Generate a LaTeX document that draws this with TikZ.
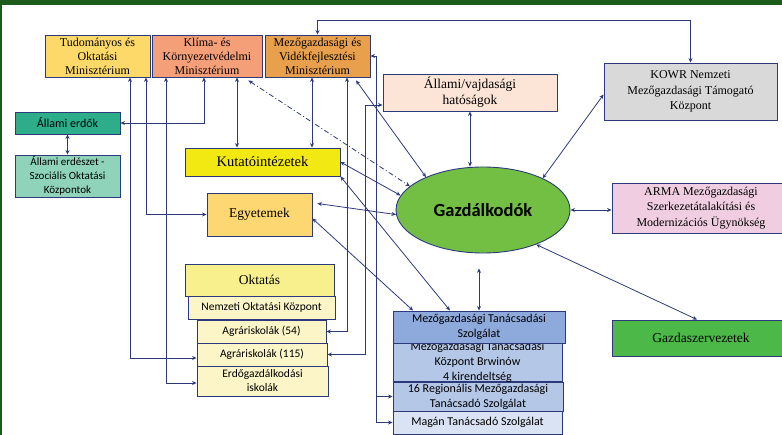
\documentclass[tikz,border=0pt]{standalone}
\usepackage{fontspec}
\setmainfont{Liberation Serif}
\newfontfamily\calibri{Carlito}
\usetikzlibrary{arrows.meta,shapes.geometric}

\definecolor{framegreen}{HTML}{1C5B1C}
\definecolor{edge}{HTML}{2C3A7C}
\definecolor{tudfill}{HTML}{FDD96A}
\definecolor{klimafill}{HTML}{F59F78}
\definecolor{mvmfill}{HTML}{E9A04C}
\definecolor{erdokfill}{HTML}{2EAD8A}
\definecolor{erdeszfill}{HTML}{8ED3BA}
\definecolor{kutatofill}{HTML}{F2E812}
\definecolor{egyfill}{HTML}{FDD872}
\definecolor{oktfill}{HTML}{F7F08C}
\definecolor{iskfill}{HTML}{FBF5C8}
\definecolor{hatfill}{HTML}{FCE4D6}
\definecolor{kowrfill}{HTML}{D9D9D9}
\definecolor{gazdfill}{HTML}{72BF44}
\definecolor{armafill}{HTML}{F0CDE1}
\definecolor{gszfill}{HTML}{4CB848}
\definecolor{mtszfill}{HTML}{8EA9DB}
\definecolor{brwfill}{HTML}{B4C7E7}
\definecolor{maganfill}{HTML}{DAE3F3}

\tikzset{
  box/.style={draw=edge, line width=0.9pt, align=center, inner sep=1pt,
    font=\fontsize{12}{14}\selectfont},
  bigbox/.style={box, font=\fontsize{13.5}{16}\selectfont},
  sbox/.style={box, font=\calibri\fontsize{11.5}{14}\selectfont},
  link/.style={draw=edge, line width=0.8pt, <->},
}

\begin{document}
\begin{tikzpicture}[x=1pt,y=-1pt,>={Stealth[length=4.5pt,width=4pt]}]
\useasboundingbox (0,0) rectangle (782,435);
\fill[framegreen] (0,0) rectangle (782,5);
\fill[framegreen] (0,0) rectangle (2,435);

% ministries
\node[box,fill=tudfill,minimum width=105pt,minimum height=42pt] (tud) at (97.5,56) {Tudományos és\\Oktatási\\Minisztérium};
\node[box,fill=klimafill,minimum width=110pt,minimum height=42pt] (klima) at (207,56) {Klíma- és\\Környezetvédelmi\\Minisztérium};
\node[box,fill=mvmfill,minimum width=105pt,minimum height=42pt] (mvm) at (317.5,56) {Mezőgazdasági és\\Vidékfejlesztési\\Minisztérium};

\node[sbox,fill=erdokfill,minimum width=105pt,minimum height=22pt,font=\calibri\fontsize{12}{14}\selectfont] (erdok) at (67.5,123) {Állami erdők};
\node[sbox,fill=erdeszfill,minimum width=105pt,minimum height=42pt,font=\calibri\fontsize{11}{14}\selectfont] (erdesz) at (67.5,176) {Állami erdészet -\\Szociális Oktatási\\Központok};

\node[bigbox,fill=kutatofill,minimum width=155pt,minimum height=28pt,font=\fontsize{14.5}{16}\selectfont] (kutato) at (262.5,162) {Kutatóintézetek};
\node[bigbox,fill=egyfill,minimum width=105pt,minimum height=43pt] (egyetem) at (259.5,214.5) {Egyetemek};

% education
\node[bigbox,fill=oktfill,minimum width=149pt,minimum height=32pt] (oktatas) at (259.5,280) {Oktatás};
\node[sbox,fill=iskfill,minimum width=147pt,minimum height=23pt] (nokt) at (261.5,307.5) {Nemzeti Oktatási Központ};
\node[sbox,fill=iskfill,minimum width=129pt,minimum height=23pt] (agr54) at (261.5,331.5) {Agráriskolák (54)};
\node[sbox,fill=iskfill,minimum width=130pt,minimum height=23pt] (agr115) at (262,354.5) {Agráriskolák (115)};
\node[sbox,fill=iskfill,minimum width=131pt,minimum height=30pt] (erdisk) at (262.5,381) {Erdőgazdálkodási\\iskolák};

% right side
\node[bigbox,fill=hatfill,minimum width=174pt,minimum height=37pt] (hatosag) at (470,92.5) {Állami/vajdasági\\hatóságok};
\node[box,fill=kowrfill,minimum width=173pt,minimum height=57pt,font=\fontsize{12}{15.5}\selectfont] (kowr) at (690.5,91.5) {KOWR Nemzeti\\Mezőgazdasági Támogató\\Központ};
\node[box,fill=armafill,minimum width=178pt,minimum height=50pt,font=\fontsize{12}{15.5}\selectfont] (arma) at (701,208) {ARMA Mezőgazdasági\\Szerkezetátalakítási és\\Modernizációs Ügynökség};
\node[bigbox,fill=gszfill,minimum width=178pt,minimum height=36pt] (gszerv) at (701,338) {Gazdaszervezetek};

\node[ellipse,draw=edge,line width=0.9pt,fill=gazdfill,minimum width=174pt,minimum height=86pt,
  font=\calibri\bfseries\fontsize{18.5}{20}\selectfont] (gazd) at (483,210) {Gazdálkodók};

% advisory
\node[sbox,fill=brwfill,minimum width=169pt,minimum height=38pt,inner ysep=-4pt,font=\calibri\fontsize{12}{15}\selectfont] (brwinow) at (477.5,362) {Mezőgazdasági Tanácsadási\\Központ Brwinów\\4 kirendeltség};
\node[sbox,fill=mtszfill,minimum width=172pt,minimum height=32pt,font=\calibri\fontsize{12}{15}\selectfont] (mtsz) at (479,327) {Mezőgazdasági Tanácsadási\\Szolgálat};
\node[sbox,fill=brwfill,minimum width=170pt,minimum height=29pt,font=\calibri\fontsize{12}{15}\selectfont] (reg16) at (478,396.5) {16 Regionális Mezőgazdasági\\Tanácsadó Szolgálat};
\node[sbox,fill=maganfill,minimum width=169pt,minimum height=23pt,font=\calibri\fontsize{12}{14}\selectfont] (magan) at (477.5,422.5) {Magán Tanácsadó Szolgálat};

% connectors
\draw[link] (mvm.north) -- ++(0,-14) -| (kowr.north);

\coordinate (t1) at ([xshift=32.5]tud.south);
\coordinate (t2) at ([xshift=48.5]tud.south);
\draw[link] (t1) |- ([yshift=-3.5]agr115.west);
\draw[link] (t2) |- (egyetem.west);

\coordinate (k1) at ([xshift=-41]klima.south);
\coordinate (k2) at ([xshift=-3]klima.south);
\coordinate (k3) at ([xshift=30]klima.south);
\draw[link] (k1) |- ([yshift=-2]erdisk.west);
\draw[link] (k2) |- (erdok.east);
\draw[link] (k3) -- (k3 |- kutato.north);
\draw[link] (erdok.south) -- (erdesz.north);
\draw[link,dash pattern=on 5pt off 2.5pt on 1pt off 2.5pt] ([xshift=-14,yshift=-3]klima.south east) -- (gazd.162);

\coordinate (m1) at ([xshift=-5.5]mvm.south);
\coordinate (m2) at ([xshift=29.5]mvm.south);
\coordinate (m3) at ([xshift=38.5,yshift=-3]mvm.south);
\coordinate (bus) at ([xshift=6]mvm.east);
\draw[link] (m1) -- (m1 |- kutato.north);
\draw[link] (m2) |- (agr54.east);
\draw[link] (m3) -- (gazd.150);
\draw[link] (mvm.east) -- (bus) |- (magan.west);
\draw[->,draw=edge,line width=0.8pt] (bus |- reg16.west) -- (reg16.west);

\draw[link] ([yshift=-12.5]hatosag.west) -- ++(-17,0) |- (agr115.east);
\draw[link] (hatosag.south) -- (hatosag.south |- gazd.north);
\draw[link] ([yshift=-3]kowr.west) -- (gazd.28);
\draw[link] (gazd.east) -- (gazd.east -| arma.west);
\coordinate (g1) at ([xshift=-4]gszerv.north);
\draw[link] (gazd.-33) -- (g1);

\coordinate (s1) at ([xshift=-29]mtsz.north);
\coordinate (s2) at ([xshift=-66]mtsz.north);
\coordinate (e1) at ([xshift=5,yshift=11]egyetem.east);
\coordinate (e2) at ([yshift=-4]egyetem.east);
\draw[link] (kutato.east) -- (gazd.170);
\draw[link] (kutato.south east) -- (s1);
\draw[link] (e1) -- (gazd.183);
\draw[link] (e2) -- (s2);
\draw[link,shorten <=15pt] (mtsz.north |- gazd.south) -- (mtsz.north);
\end{tikzpicture}
\end{document}
